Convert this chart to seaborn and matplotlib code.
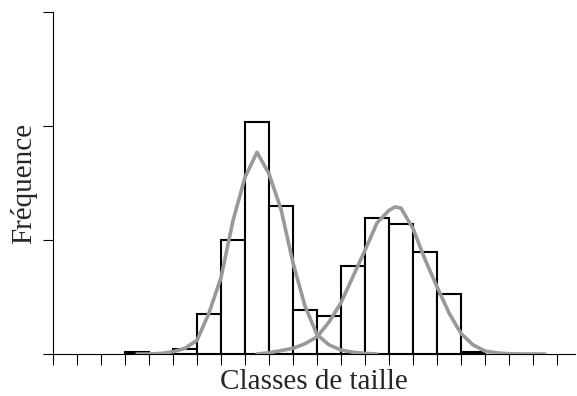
import numpy as np
import pandas as pd
import matplotlib
matplotlib.use("Agg")
import matplotlib.pyplot as plt
import seaborn as sns

# histogram: bin index (left edge) and frequency
bins_left = [3, 4, 5, 6, 7, 8, 9, 10, 11, 12, 13, 14, 15, 16, 17]
freq = [0.2, 0.0, 0.45, 3.5, 10.0, 20.35, 13.0, 3.85, 3.3, 7.7, 11.9, 11.4, 8.95, 5.25, 0.2]

# first fitted component (small sizes)
comp1_x = [3.5, 4.0, 4.5, 5.0, 5.5, 6.0, 6.5, 7.0, 7.5, 8.0, 8.5, 9.0, 9.5,
           10.0, 10.5, 11.0, 11.5, 12.0, 12.5, 13.0, 13.5]
comp1_y = [0.0, 0.0, 0.05, 0.2, 0.5, 1.2, 3.6, 6.7, 11.7, 15.5, 17.7, 15.8, 12.7,
           8.0, 4.2, 1.7, 0.8, 0.35, 0.15, 0.05, 0.0]

# second fitted component (large sizes)
comp2_x = [8.5, 9.0, 9.5, 10.0, 10.5, 11.0, 11.5, 12.0, 12.5, 13.0, 13.5, 14.0,
           14.25, 14.5, 15.0, 15.5, 16.0, 16.5, 17.0, 17.5, 18.0, 18.5, 19.0,
           19.5, 20.0, 20.5]
comp2_y = [0.0, 0.1, 0.3, 0.5, 0.9, 1.5, 2.8, 4.5, 6.8, 9.1, 11.5, 12.6,
           12.9, 12.8, 11.0, 8.3, 5.9, 3.6, 1.8, 0.8, 0.25, 0.1, 0.02,
           0.0, 0.0, 0.0]

sns.set_style("ticks")
plt.rcParams['font.family'] = ['Liberation Serif', 'DejaVu Serif']

fig = plt.figure(figsize=(5.77, 3.96), dpi=100)
ax = fig.add_axes([53 / 577, 42 / 396, 522 / 577, 342 / 396])

hist_df = pd.DataFrame({"classe": [b + 0.5 for b in bins_left], "freq": freq})
edges = list(range(bins_left[0], bins_left[-1] + 2))
sns.histplot(data=hist_df, x="classe", weights="freq", bins=edges, ax=ax,
             color="white", edgecolor="black", linewidth=1.5, alpha=1, zorder=2)

sns.lineplot(x=comp1_x, y=comp1_y, ax=ax, color="#999999", linewidth=2.6, zorder=3)
sns.lineplot(x=comp2_x, y=comp2_y, ax=ax, color="#999999", linewidth=2.6, zorder=3)

ax.set_xlim(0, 21.75)
ax.set_ylim(0, 30)
ax.set_xticks(np.arange(0, 22))
ax.set_yticks([0, 10, 20, 30])
ax.set_xticklabels([])
ax.set_yticklabels([])
ax.tick_params(axis='x', direction='out', length=8, width=0.8, color='black')
ax.tick_params(axis='y', direction='out', length=7.2, width=0.8, color='black')
for s in ['top', 'right']:
    ax.spines[s].set_visible(False)
for s in ['left', 'bottom']:
    ax.spines[s].set_linewidth(0.8)
    ax.spines[s].set_color('black')

ax.set_xlabel("Classes de taille", fontsize=21, labelpad=-1)
ax.set_ylabel("Fréquence", fontsize=21, labelpad=0.5)

fig.savefig("out.png", dpi=100)
